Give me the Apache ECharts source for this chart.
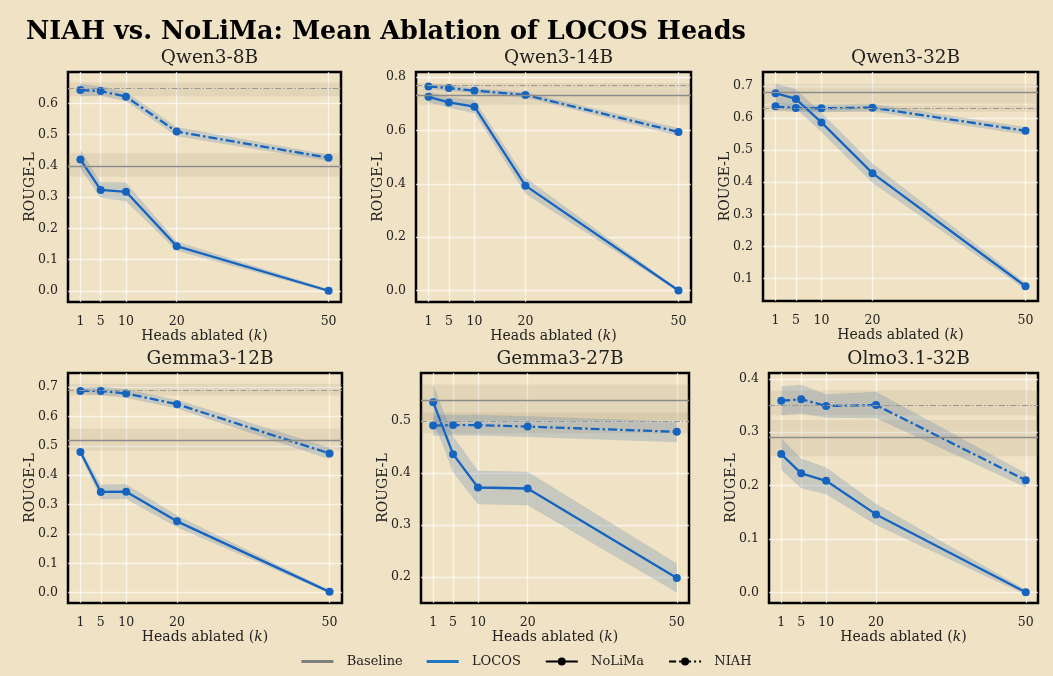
<!DOCTYPE html>
<html>
<head>
<meta charset="utf-8">
<script src="https://cdn.jsdelivr.net/npm/echarts@6/dist/echarts.min.js"></script>
<style>
  html, body { margin: 0; padding: 0; background: #f0e2c4; }
  #main { width: 1053px; height: 676px; }
</style>
</head>
<body>
<div id="main"></div>
<script>
// x positions (heads ablated)
var heads = [1, 5, 10, 20, 50];
var models = ['Qwen3-8B', 'Qwen3-14B', 'Qwen3-32B', 'Gemma3-12B', 'Gemma3-27B', 'Olmo3.1-32B'];

// LOCOS ablation, NoLiMa (solid) and NIAH (dash-dot), one row per model
var nolimaMean = [
    [0.421, 0.323, 0.317, 0.143, 0.000],
    [0.726, 0.705, 0.689, 0.393, 0.000],
    [0.677, 0.659, 0.586, 0.428, 0.076],
    [0.479, 0.343, 0.344, 0.243, 0.003],
    [0.536, 0.436, 0.372, 0.370, 0.198],
    [0.259, 0.223, 0.209, 0.146, 0.000]
];
var nolimaCI = [
    [0.030, 0.025, 0.030, 0.015, 0.005],
    [0.020, 0.020, 0.025, 0.030, 0.005],
    [0.030, 0.030, 0.030, 0.030, 0.010],
    [0.010, 0.025, 0.025, 0.020, 0.005],
    [0.035, 0.035, 0.032, 0.032, 0.028],
    [0.030, 0.028, 0.025, 0.020, 0.005]
];
var niahMean = [
    [0.643, 0.640, 0.622, 0.510, 0.426],
    [0.765, 0.759, 0.749, 0.733, 0.594],
    [0.636, 0.631, 0.630, 0.632, 0.560],
    [0.687, 0.687, 0.678, 0.642, 0.474],
    [0.491, 0.492, 0.492, 0.489, 0.479],
    [0.359, 0.362, 0.349, 0.351, 0.210]
];
var niahCI = [
    [0.020, 0.015, 0.015, 0.015, 0.010],
    [0.010, 0.010, 0.010, 0.010, 0.015],
    [0.012, 0.012, 0.012, 0.012, 0.012],
    [0.010, 0.015, 0.015, 0.015, 0.020],
    [0.020, 0.020, 0.020, 0.020, 0.020],
    [0.027, 0.027, 0.022, 0.025, 0.013]
];
// unablated baselines (value, half width of band)
var baseNolima = [0.403, 0.726, 0.675, 0.521, 0.535, 0.289];
var baseNolimaCI = [0.038, 0.030, 0.030, 0.037, 0.035, 0.034];
var baseNiah = [0.645, 0.768, 0.629, 0.691, 0.496, 0.355];
var baseNiahCI = [0.022, 0.010, 0.010, 0.020, 0.020, 0.023];

var yTicks = [
    [0, 0.1, 0.2, 0.3, 0.4, 0.5, 0.6],
    [0, 0.2, 0.4, 0.6, 0.8],
    [0.1, 0.2, 0.3, 0.4, 0.5, 0.6, 0.7],
    [0, 0.1, 0.2, 0.3, 0.4, 0.5, 0.6, 0.7],
    [0.2, 0.3, 0.4, 0.5],
    [0, 0.1, 0.2, 0.3, 0.4]
];
var yRange = [[-0.036, 0.701], [-0.043, 0.819], [0.030, 0.743], [-0.035, 0.748], [0.150, 0.592], [-0.020, 0.411]];

// panel boxes [left, top, width, height]
var boxes = [
    [68, 72, 273, 230], [416, 72, 275, 230], [763, 72, 275, 229],
    [68, 373, 274, 230], [421, 373, 268, 230], [769, 373, 269, 230]
];

var font = 'DejaVu Serif';
var blue = '#1565c0';
var dashDot = [9, 3, 2.5, 3];

function band(idx, mean, ci, color) {
    return {
        type: 'custom',
        xAxisIndex: idx, yAxisIndex: idx,
        z: 2, silent: true,
        data: [[heads[0], mean[0]]],
        renderItem: function (params, api) {
            var pts = [];
            for (var i = 0; i < heads.length; i++) pts.push(api.coord([heads[i], mean[i] + ci[i]]));
            for (var j = heads.length - 1; j >= 0; j--) pts.push(api.coord([heads[j], mean[j] - ci[j]]));
            return { type: 'polygon', shape: { points: pts }, style: { fill: color } };
        }
    };
}

var grids = [], xAxes = [], yAxes = [], series = [];
var titles = [{
    text: 'NIAH vs. NoLiMa: Mean Ablation of LOCOS Heads',
    left: 21, top: 14,
    textStyle: { fontFamily: font, fontWeight: 'bold', fontSize: 25.5, color: '#000' }
}];

models.forEach(function (name, i) {
    var b = boxes[i];
    grids.push({
        left: b[0], top: b[1], width: b[2], height: b[3],
        show: true, borderColor: '#000', borderWidth: 2.5, backgroundColor: 'transparent'
    });
    titles.push({
        text: name, left: b[0] + b[2] / 2, top: b[1] - 28, textAlign: 'center',
        textStyle: { fontFamily: font, fontWeight: 'normal', fontSize: 18.5, color: '#222' }
    });
    xAxes.push({
        type: 'value', gridIndex: i, min: -1.45, max: 52.45,
        name: 'Heads ablated ({i|k})', nameLocation: 'middle', nameGap: 25,
        nameTextStyle: { fontFamily: font, fontSize: 14, color: '#222',
            rich: { i: { fontFamily: font, fontStyle: 'italic', fontSize: 14, color: '#222' } } },
        axisLine: { show: false },
        axisTick: { show: false, customValues: heads },
        axisLabel: { customValues: heads, fontFamily: font, fontSize: 12.5, color: '#222', margin: 13 },
        splitLine: { show: true, lineStyle: { color: 'rgba(255,255,255,0.7)', width: 1.3 } }
    });
    yAxes.push({
        type: 'value', gridIndex: i, min: yRange[i][0], max: yRange[i][1],
        name: 'ROUGE-L', nameLocation: 'middle', nameGap: 31, nameMoveOverlap: false,
        nameTextStyle: { fontFamily: font, fontSize: 14, color: '#222' },
        axisLine: { show: false },
        axisTick: { show: false, customValues: yTicks[i] },
        axisLabel: { customValues: yTicks[i], fontFamily: font, fontSize: 12.5, color: '#222', margin: 10,
            formatter: function (v) { return v.toFixed(1); } },
        splitLine: { show: true, lineStyle: { color: 'rgba(255,255,255,0.7)', width: 1.3 } }
    });

    // baselines: line + shaded band across the whole panel
    series.push({
        type: 'line', xAxisIndex: i, yAxisIndex: i, z: 1, silent: true,
        data: [[heads[0], baseNolima[i]]], symbol: 'none', lineStyle: { opacity: 0 },
        markArea: {
            silent: true, itemStyle: { color: 'rgba(140,120,90,0.12)' },
            data: [
                [{ yAxis: baseNolima[i] - baseNolimaCI[i] }, { yAxis: baseNolima[i] + baseNolimaCI[i] }],
                [{ yAxis: baseNiah[i] - baseNiahCI[i] }, { yAxis: baseNiah[i] + baseNiahCI[i] }]
            ]
        },
        markLine: {
            silent: true, symbol: 'none', label: { show: false },
            data: [
                { yAxis: baseNolima[i], lineStyle: { color: '#8c8c8c', width: 1.3, type: 'solid' } },
                { yAxis: baseNiah[i], lineStyle: { color: '#999', width: 1.2, type: [6, 2, 1.5, 2] } }
            ]
        }
    });

    series.push(band(i, nolimaMean[i], nolimaCI[i], 'rgba(105,140,175,0.3)'));
    series.push(band(i, niahMean[i], niahCI[i], 'rgba(105,140,175,0.3)'));

    series.push({
        type: 'line', xAxisIndex: i, yAxisIndex: i, z: 3, silent: true,
        data: heads.map(function (h, j) { return [h, nolimaMean[i][j]]; }),
        symbol: 'circle', symbolSize: 8,
        itemStyle: { color: blue }, lineStyle: { color: blue, width: 2.3 }
    });
    series.push({
        type: 'line', xAxisIndex: i, yAxisIndex: i, z: 3, silent: true,
        data: heads.map(function (h, j) { return [h, niahMean[i][j]]; }),
        symbol: 'circle', symbolSize: 8,
        itemStyle: { color: blue }, lineStyle: { color: blue, width: 2.3, type: dashDot }
    });
});

// legend-only entries
var barIcon = 'path://M0,0 H32 V3 H0 Z';
series.push({ name: 'Baseline', type: 'line', data: [], symbol: 'none', lineStyle: { color: '#808080', width: 2.5 }, itemStyle: { color: '#808080' } });
series.push({ name: 'LOCOS', type: 'line', data: [], symbol: 'none', lineStyle: { color: '#1f77c4', width: 2.5 }, itemStyle: { color: '#1f77c4' } });
series.push({ name: 'NoLiMa', type: 'line', data: [], symbol: 'circle', symbolSize: 8, lineStyle: { color: '#000', width: 2.5 }, itemStyle: { color: '#000' } });
series.push({ name: 'NIAH', type: 'line', data: [], symbol: 'circle', symbolSize: 8, lineStyle: { color: '#000', width: 2.5, type: [7, 3, 2, 3] }, itemStyle: { color: '#000' } });

var chart = echarts.init(document.getElementById('main'), null, { renderer: 'canvas' });
chart.setOption({
    animation: false,
    backgroundColor: '#f0e2c4',
    title: titles,
    grid: grids,
    xAxis: xAxes,
    yAxis: yAxes,
    legend: {
        data: [
            { name: 'Baseline', icon: barIcon },
            { name: 'LOCOS', icon: barIcon },
            { name: 'NoLiMa' },
            { name: 'NIAH' }
        ],
        left: 'center', top: 650, itemWidth: 32, itemHeight: 10, itemGap: 24,
        formatter: '  {name}',
        textStyle: { fontFamily: font, fontSize: 13, color: '#222' }
    },
    series: series
});
</script>
</body>
</html>
